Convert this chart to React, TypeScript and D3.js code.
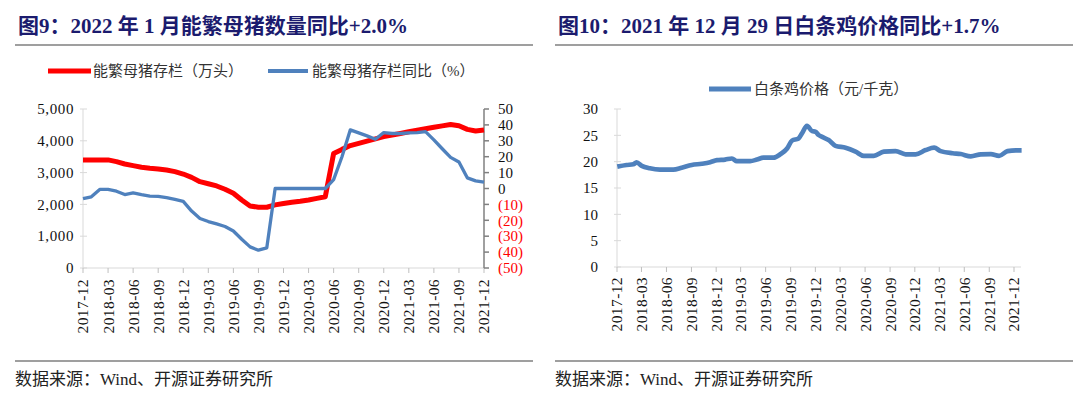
import * as d3 from "d3";

// ---- left chart data (monthly) ----
const sowMonths = [
  "2017-12", "2018-01", "2018-02", "2018-03", "2018-04", "2018-05", "2018-06",
  "2018-07", "2018-08", "2018-09", "2018-10", "2018-11", "2018-12", "2019-01",
  "2019-02", "2019-03", "2019-04", "2019-05", "2019-06", "2019-07", "2019-08",
  "2019-09", "2019-10", "2019-11", "2019-12", "2020-01", "2020-02", "2020-03",
  "2020-04", "2020-05", "2020-06", "2020-07", "2020-08", "2020-09", "2020-10",
  "2020-11", "2020-12", "2021-01", "2021-02", "2021-03", "2021-04", "2021-05",
  "2021-06", "2021-07", "2021-08", "2021-09", "2021-10", "2021-11", "2021-12",
];
const sowStock = [
  3400, 3400, 3400, 3400, 3345, 3270, 3220, 3170, 3135, 3115, 3080, 3030, 2955,
  2850, 2715, 2650, 2580, 2475, 2350, 2140, 1950, 1910, 1910, 1985, 2030, 2070,
  2100, 2140, 2190, 2240, 3600, 3730, 3850, 3920, 3990, 4060, 4130, 4180, 4230,
  4285, 4330, 4380, 4425, 4470, 4515, 4475, 4360, 4310, 4340,
];
const sowYoY = [
  -6.4, -5.2, -0.6, -0.6, -1.7, -3.8, -2.7, -3.9, -4.8, -5.0, -5.8, -6.9, -8.1,
  -14.2, -18.9, -20.8, -22.3, -23.9, -26.7, -31.9, -36.7, -38.8, -37.3, 0, 0, 0,
  0, 0, 0, 0, 5.6, 20, 36.9, 35, 33.1, 31, 35.2, 34.6, 34.6, 35, 35.2, 35.8,
  30.6, 25, 19.6, 16.7, 6.7, 4.8, 4.0,
];
const leftTicks = [0, 1000, 2000, 3000, 4000, 5000];
const rightTicks = [-50, -40, -30, -20, -10, 0, 10, 20, 30, 40, 50];

// ---- right chart data ----
const chickenDates = [
  "2017-12-02", "2018-01-05", "2018-01-30", "2018-02-11", "2018-03-02",
  "2018-04-01", "2018-05-08", "2018-06-26", "2018-07-27", "2018-09-02",
  "2018-10-09", "2018-11-09", "2018-12-04", "2019-01-03", "2019-01-28",
  "2019-02-15", "2019-04-05", "2019-04-30", "2019-05-24", "2019-06-30",
  "2019-07-25", "2019-08-19", "2019-09-06", "2019-09-30", "2019-10-13",
  "2019-10-31", "2019-11-19", "2019-12-01", "2019-12-13", "2019-12-26",
  "2020-01-19", "2020-02-13", "2020-03-21", "2020-04-27", "2020-05-27",
  "2020-07-03", "2020-08-09", "2020-09-21", "2020-10-28", "2020-12-04",
  "2021-01-10", "2021-02-10", "2021-03-06", "2021-04-19", "2021-05-19",
  "2021-06-25", "2021-08-01", "2021-09-07", "2021-10-07", "2021-11-07",
  "2021-12-08", "2021-12-29",
];
const chickenPrice = [
  19.05, 19.37, 19.5, 19.87, 19.2, 18.74, 18.5, 18.5, 18.86, 19.37, 19.6, 19.9,
  20.3, 20.4, 20.6, 20.1, 20.1, 20.4, 20.76, 20.76, 21.4, 22.5, 24.0, 24.4,
  25.4, 26.8, 25.8, 25.7, 25.06, 24.7, 24.1, 23.0, 22.65, 21.9, 21.1, 21.1,
  21.9, 22.0, 21.4, 21.4, 22.2, 22.65, 22.0, 21.6, 21.45, 21.0, 21.4, 21.45,
  21.1, 22.0, 22.15, 22.15,
];
const chickenTicks = [0, 5, 10, 15, 20, 25, 30];
const quarterLabels = [
  "2017-12", "2018-03", "2018-06", "2018-09", "2018-12", "2019-03", "2019-06",
  "2019-09", "2019-12", "2020-03", "2020-06", "2020-09", "2020-12", "2021-03",
  "2021-06", "2021-09", "2021-12",
];

const SERIF = '"Liberation Serif", "Times New Roman", "Noto Sans CJK SC", serif';
const NAVY = "#1b1b6e";
const RED = "#ff0000";
const BLUE = "#4f81bd";
const LIGHT = "#d9d9d9";

function Frame({ x0, title }: { x0: number; title: string }) {
  return (
    <g>
      <text x={x0 + 3} y={33} fontFamily={SERIF} fontSize={21} fontWeight="bold" fill={NAVY}>
        {title}
      </text>
      <line x1={x0} x2={x0 + 518} y1={45} y2={45} stroke="#7f7f7f" strokeWidth={1.5} />
      <line x1={x0} x2={x0 + 518} y1={361} y2={361} stroke="#7f7f7f" strokeWidth={1.5} />
      <text x={x0} y={385} fontFamily={SERIF} fontSize={17} fill="#222">
        数据来源：Wind、开源证券研究所
      </text>
    </g>
  );
}

function SowChart() {
  const x = d3.scalePoint<string>().domain(sowMonths).range([83, 484]);
  const yL = d3.scaleLinear().domain([0, 5000]).range([268, 109]);
  const yR = d3.scaleLinear().domain([-50, 50]).range([268, 109]);
  const fmt = d3.format(",");
  const stockLine = d3
    .line<number>()
    .x((_, i) => x(sowMonths[i])!)
    .y((d) => yL(d));
  const yoyLine = d3
    .line<number>()
    .x((_, i) => x(sowMonths[i])!)
    .y((d) => yR(d));

  return (
    <g fontFamily={SERIF}>
      <Frame x0={15} title="图9：2022 年 1 月能繁母猪数量同比+2.0%" />

      {/* legend */}
      <line x1={48} x2={91} y1={71} y2={71} stroke={RED} strokeWidth={5} />
      <text x={93} y={76} fontSize={15} fill="#333">能繁母猪存栏（万头）</text>
      <line x1={268} x2={308} y1={71} y2={71} stroke={BLUE} strokeWidth={4} />
      <text x={312} y={76} fontSize={15} fill="#333">能繁母猪存栏同比（%）</text>

      {/* left axis */}
      <line x1={83} x2={83} y1={109} y2={268} stroke={LIGHT} />
      {leftTicks.map((t) => (
        <g key={t}>
          <line x1={80} x2={87} y1={yL(t)} y2={yL(t)} stroke={LIGHT} />
          <text x={74} y={yL(t)} dy="0.35em" textAnchor="end" fontSize={15} letterSpacing={0.6} fill="#111">
            {fmt(t)}
          </text>
        </g>
      ))}

      {/* bottom axis */}
      <line x1={83} x2={484} y1={268} y2={268} stroke={LIGHT} />
      {quarterLabels.map((m) => (
        <g key={m} transform={`translate(${x(m)},0)`}>
          <line y1={268} y2={273} stroke="#bfbfbf" />
          <text
            transform="translate(0,279) rotate(-90)"
            dy="0.35em"
            textAnchor="end"
            fontSize={15.5}
            letterSpacing={0.4}
            fill="#111"
          >
            {m}
          </text>
        </g>
      ))}

      {/* right axis */}
      <line x1={484} x2={484} y1={109} y2={268} stroke="#808080" strokeWidth={1.5} />
      {rightTicks.map((t) => (
        <g key={t}>
          <line x1={484} x2={489} y1={yR(t)} y2={yR(t)} stroke="#808080" strokeWidth={1.5} />
          <text x={498} y={yR(t)} dy="0.35em" fontSize={15} fill={t < 0 ? RED : "#111"}>
            {t < 0 ? `(${-t})` : t}
          </text>
        </g>
      ))}

      <path d={stockLine(sowStock)!} fill="none" stroke={RED} strokeWidth={5} strokeLinejoin="round" />
      <path d={yoyLine(sowYoY)!} fill="none" stroke={BLUE} strokeWidth={3.3} strokeLinejoin="round" />
    </g>
  );
}

function ChickenChart() {
  const parse = d3.timeParse("%Y-%m-%d");
  const parseMonth = d3.timeParse("%Y-%m");
  const x = d3
    .scaleTime()
    .domain([parseMonth("2017-12")!, parseMonth("2021-12")!])
    .range([617, 1014]);
  const y = d3.scaleLinear().domain([0, 30]).range([267, 109]);
  const line = d3
    .line<number>()
    .x((_, i) => x(parse(chickenDates[i])!))
    .y((d) => y(d))
    .curve(d3.curveMonotoneX);

  return (
    <g fontFamily={SERIF}>
      <Frame x0={555} title="图10：2021 年 12 月 29 日白条鸡价格同比+1.7%" />

      <line x1={709} x2={751} y1={89} y2={89} stroke={BLUE} strokeWidth={5} />
      <text x={754} y={94} fontSize={15} fill="#333">白条鸡价格（元/千克）</text>

      <line x1={617} x2={617} y1={109} y2={267} stroke={LIGHT} />
      {chickenTicks.map((t) => (
        <g key={t}>
          <line x1={614} x2={621} y1={y(t)} y2={y(t)} stroke={LIGHT} />
          <text x={598} y={y(t)} dy="0.35em" textAnchor="end" fontSize={15} fill="#111">
            {t}
          </text>
        </g>
      ))}

      <line x1={617} x2={1021} y1={267} y2={267} stroke={LIGHT} />
      {quarterLabels.map((m) => (
        <g key={m} transform={`translate(${x(parseMonth(m)!)},0)`}>
          <line y1={267} y2={272} stroke="#bfbfbf" />
          <text
            transform="translate(0,277) rotate(-90)"
            dy="0.35em"
            textAnchor="end"
            fontSize={15.5}
            letterSpacing={0.4}
            fill="#111"
          >
            {m}
          </text>
        </g>
      ))}

      <path d={line(chickenPrice)!} fill="none" stroke={BLUE} strokeWidth={4.7} strokeLinejoin="round" />
    </g>
  );
}

export default function App() {
  return (
    <svg
      width={1080}
      height={399}
      style={{ position: "absolute", left: 0, top: 0, background: "#fff" }}
    >
      <rect width={1080} height={399} fill="#fff" />
      <SowChart />
      <ChickenChart />
    </svg>
  );
}
